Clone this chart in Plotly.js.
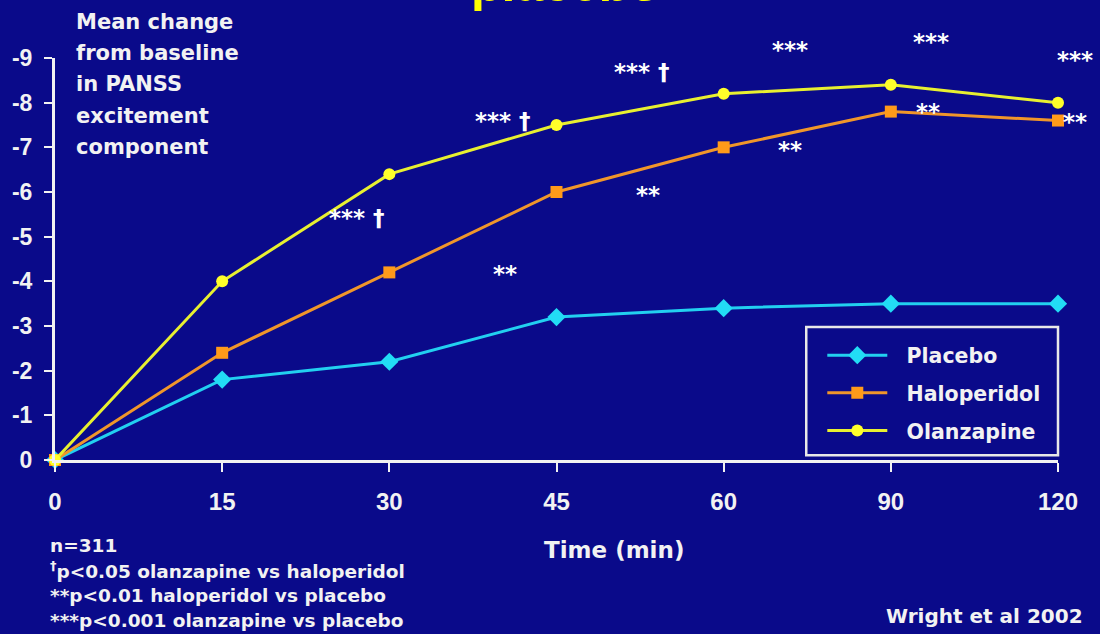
<!DOCTYPE html>
<html>
<head>
<meta charset="utf-8">
<script src="https://cdn.plot.ly/plotly-3.0.1.min.js"></script>
<style>html,body{margin:0;padding:0;background:#0a0a8a;}#chart{width:1100px;height:634px;}</style>
</head>
<body>
<div id="chart"></div>
<script>
// ---- data ----
var timeLabels = ["0", "15", "30", "45", "60", "90", "120"];
var placebo     = [0, -1.8, -2.2, -3.2, -3.4, -3.5, -3.5];
var haloperidol = [0, -2.4, -4.2, -6.0, -7.0, -7.8, -7.6];
var olanzapine  = [0, -4.0, -6.4, -7.5, -8.2, -8.4, -8.0];
var yTicks = [0, -1, -2, -3, -4, -5, -6, -7, -8, -9];
var sigLabels = ["*** \u2020", "**", "*** \u2020", "**", "*** \u2020", "**", "***", "**", "***", "***", "**"];
var yTitleLines = ["Mean change", "from baseline", "in PANSS", "excitement", "component"];
var footLines = ["n=311", "<sup>\u2020</sup>p<0.05 olanzapine vs haloperidol", "**p<0.01 haloperidol vs placebo", "***p<0.001 olanzapine vs placebo"];

var FONT = "DejaVu Sans, Verdana, sans-serif";
var TICKFONT = "Liberation Sans, Arial, sans-serif";
var BG = "#0a0a8a";
var TXT = "#f2f2f2";
var idx = timeLabels.map(function(_, i){ return i; });

function tr(name, y, color, lineColor, symbol, size){
  return {
    x: idx, y: y, name: "\u00a0\u00a0" + name, type: "scatter", mode: "lines+markers",
    line: {color: lineColor, width: 3},
    marker: {color: color, symbol: symbol, size: size},
    cliponaxis: false, legendgroup: name
  };
}
var data = [
  tr("Placebo", placebo, "#22dcf5", "#22d0f0", "diamond", 14),
  tr("Haloperidol", haloperidol, "#ff9a1a", "#f0962a", "square", 12),
  tr("Olanzapine", olanzapine, "#ffff2a", "#e8f030", "circle", 12)
];

// significance label anchors (paper coords)
var sigPos = [[0.301,0.612],[0.449,0.473],[0.447,0.853],[0.591,0.669],[0.585,0.975],[0.733,0.781],[0.733,1.030],[0.870,0.876],[0.873,1.050],[1.017,1.005],[1.017,0.851]];
var annotations = sigLabels.map(function(t, i){
  return {x: sigPos[i][0], y: sigPos[i][1], xref: "paper", yref: "paper", text: t, showarrow: false,
    xanchor: "center", yanchor: "middle",
    font: {family: FONT, size: 23, color: "#ffffff", weight: "bold"}, yshift: -4};
});
yTitleLines.forEach(function(t, i){
  annotations.push({xref: "paper", yref: "paper", x: 0.019, y: (460 - 22 - 31.2 * i) / 402,
    xanchor: "left", yanchor: "middle", text: "<b>" + t + "</b>", showarrow: false,
    font: {family: FONT, size: 21, color: TXT}});
});
annotations.push({xref: "paper", yref: "paper", x: 0.557, y: -0.224, xanchor: "center", yanchor: "middle",
  text: "<b>Time (min)</b>", showarrow: false, font: {family: FONT, size: 23, color: TXT}});
footLines.forEach(function(t, i){
  annotations.push({xref: "paper", yref: "paper", x: -0.007, y: (460 - 545 - 25 * i) / 402,
    xanchor: "left", yanchor: "middle", text: "<b>" + t + "</b>", showarrow: false,
    font: {family: FONT, size: 18.5, color: TXT}});
});
annotations.push({xref: "paper", yref: "paper", x: 1.027, y: -0.388, xanchor: "right", yanchor: "middle",
  text: "<b>Wright et al 2002</b>", showarrow: false, font: {family: FONT, size: 20, color: TXT}});
annotations.push({xref: "paper", yref: "paper", x: 0.509, y: 1.11, xanchor: "center", yanchor: "bottom",
  text: "<b>placebo</b>", showarrow: false, font: {family: "Liberation Sans, Arial, sans-serif", size: 50, color: "#ffff00"}});

var layout = {
  width: 1100, height: 634,
  paper_bgcolor: BG, plot_bgcolor: BG,
  margin: {l: 55, r: 42, t: 58, b: 174},
  font: {family: FONT, color: TXT},
  xaxis: {
    range: [0, 6], tickmode: "array", tickvals: idx, ticktext: timeLabels,
    showgrid: false, zeroline: false, showline: true, linecolor: TXT, linewidth: 3,
    ticks: "outside", ticklen: 9, tickwidth: 2, tickcolor: TXT, ticklabelstandoff: 9,
    tickfont: {family: TICKFONT, size: 24, color: TXT, weight: "bold"}, fixedrange: true
  },
  yaxis: {
    range: [0, -9], tickmode: "array", tickvals: yTicks, ticktext: yTicks.map(String),
    showgrid: false, zeroline: false, showline: true, linecolor: TXT, linewidth: 3,
    ticks: "outside", ticklen: 8, tickwidth: 2, tickcolor: TXT, ticklabelstandoff: 7,
    tickfont: {family: TICKFONT, size: 23, color: TXT, weight: "bold"}, fixedrange: true
  },
  showlegend: true,
  legend: {
    x: 0.765, y: 0.31, xanchor: "left", yanchor: "top",
    bgcolor: "rgba(0,0,0,0)", borderwidth: 0, traceorder: "grouped", tracegroupgap: 8,
    itemwidth: 60, font: {family: FONT, size: 20.5, color: TXT, weight: "bold"}
  },
  shapes: [{type: "rect", xref: "paper", yref: "paper", x0: 0.749, x1: 1.0, y0: 0.012, y1: 0.331,
    line: {color: "#e8e8e8", width: 2.5}, fillcolor: "rgba(0,0,0,0)"}],
  annotations: annotations
};
Plotly.newPlot("chart", data, layout, {displayModeBar: false, staticPlot: true});
</script>
</body>
</html>
